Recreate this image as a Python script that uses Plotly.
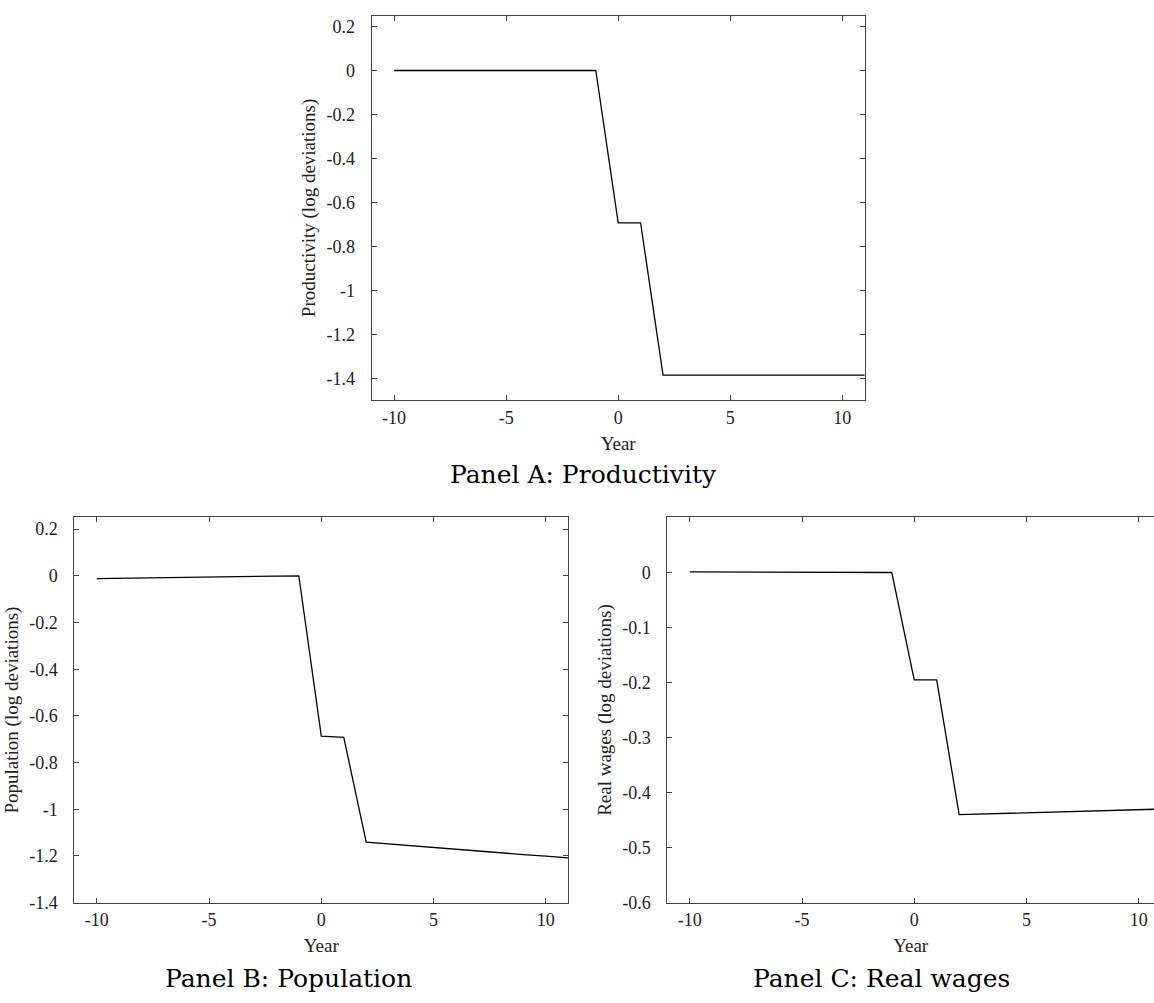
import plotly.graph_objects as go

# ---- data ----
years = [-10, -9, -8, -7, -6, -5, -4, -3, -2, -1, 0, 1, 2, 3, 4, 5, 6, 7, 8, 9, 10, 11]
productivity = [0.0, 0.0, 0.0, 0.0, 0.0, 0.0, 0.0, 0.0, 0.0, 0.0,
                -0.693, -0.693,
                -1.386, -1.386, -1.386, -1.386, -1.386, -1.386, -1.386, -1.386, -1.386, -1.386]
population = [-0.012, -0.011, -0.010, -0.008, -0.007, -0.006, -0.004, -0.003, -0.001, 0.0,
              -0.687, -0.692,
              -1.141, -1.149, -1.157, -1.164, -1.172, -1.179, -1.187, -1.194, -1.201, -1.208]
real_wages = [0.001, 0.001, 0.001, 0.001, 0.001, 0.0, 0.0, 0.0, 0.0, 0.0,
              -0.195, -0.195,
              -0.440, -0.439, -0.438, -0.437, -0.436, -0.435, -0.434, -0.433, -0.432, -0.430]

x_ticks = [-10, -5, 0, 5, 10]
x_ticktext = ["-10", "-5", "0", "5", "10"]
yA_ticks = [0.2, 0, -0.2, -0.4, -0.6, -0.8, -1, -1.2, -1.4]
yA_ticktext = ["0.2", "0", "-0.2", "-0.4", "-0.6", "-0.8", "-1", "-1.2", "-1.4"]
yB_ticks = yA_ticks
yB_ticktext = yA_ticktext
yC_ticks = [0, -0.1, -0.2, -0.3, -0.4, -0.5, -0.6]
yC_ticktext = ["0", "-0.1", "-0.2", "-0.3", "-0.4", "-0.5", "-0.6"]

panel_titles = ["Panel A: Productivity", "Panel B: Population", "Panel C: Real wages"]
y_titles = ["Productivity (log deviations)", "Population (log deviations)", "Real wages (log deviations)"]

W, H = 1154, 1003
TICKFONT = dict(family="Liberation Serif, Times New Roman, serif", size=18, color="#222")
TITLEFONT = dict(family="Liberation Serif, Times New Roman, serif", size=19, color="#222")
AXCOL = "#444"

fig = go.Figure()
fig.add_trace(go.Scatter(x=years, y=productivity, mode="lines", line=dict(color="black", width=1.3),
                         xaxis="x", yaxis="y", showlegend=False))
fig.add_trace(go.Scatter(x=years, y=population, mode="lines", line=dict(color="black", width=1.3),
                         xaxis="x2", yaxis="y2", showlegend=False))
fig.add_trace(go.Scatter(x=years, y=real_wages, mode="lines", line=dict(color="black", width=1.3),
                         xaxis="x3", yaxis="y3", showlegend=False))


def xax(domain, rng, anchor):
    return dict(domain=domain, range=rng, anchor=anchor, tickvals=x_ticks, ticktext=x_ticktext,
                ticks="inside", ticklen=5, tickcolor=AXCOL, showline=True, linecolor=AXCOL, linewidth=1,
                mirror="ticks", showgrid=False, zeroline=False, tickfont=TICKFONT,
                ticklabelstandoff=1, ticklabeloverflow="allow",
                title=dict(text="Year", font=TITLEFONT, standoff=9), fixedrange=True)


def yax(domain, rng, anchor, tv, tt, title, mirror):
    return dict(domain=domain, range=rng, anchor=anchor, tickvals=tv, ticktext=tt,
                ticks="inside", ticklen=5, tickcolor=AXCOL, showline=True, linecolor=AXCOL, linewidth=1,
                mirror=mirror, showgrid=False, zeroline=False, tickfont=TICKFONT,
                ticklabelstandoff=12,
                title=dict(text=title, font=TITLEFONT, standoff=5), fixedrange=True)


def px(a, b):
    return [a / W, min(1.0, b / W)]


def py(top, bottom):
    return [1 - bottom / H, 1 - top / H]


fig.update_layout(
    width=W, height=H,
    margin=dict(l=0, r=0, t=0, b=0),
    paper_bgcolor="white", plot_bgcolor="white",
    xaxis=xax(px(371.7, 864.7), [-11, 11], "y"),
    yaxis=yax(py(15.7, 404.3), [-1.5, 0.25], "x", yA_ticks, yA_ticktext, y_titles[0], "ticks"),
    xaxis2=xax(px(74.3, 568.3), [-11, 11], "y2"),
    yaxis2=yax(py(522.7, 911.7), [-1.4, 0.25], "x2", yB_ticks, yB_ticktext, y_titles[1], "ticks"),
    xaxis3=xax(px(667.3, 1154), [-11, 10.68], "y3"),
    yaxis3=yax(py(522.7, 911.7), [-0.6, 0.1], "x3", yC_ticks, yC_ticktext, y_titles[2], False),
)

TFONT = dict(family="DejaVu Serif, serif", size=25, color="black")
for text, cx, cy in [(panel_titles[0], 584, 479), (panel_titles[1], 288, 988), (panel_titles[2], 881, 988)]:
    fig.add_annotation(text=text, x=cx / W, y=1 - cy / H, xref="paper", yref="paper",
                       showarrow=False, xanchor="center", yanchor="middle", font=TFONT)

# remove default page margin / scrollbars so the figure fills the window exactly
fig.write_html("out.html", config={"displayModeBar": False},
               post_script="document.body.style.margin='0px';document.body.style.overflow='hidden';")
